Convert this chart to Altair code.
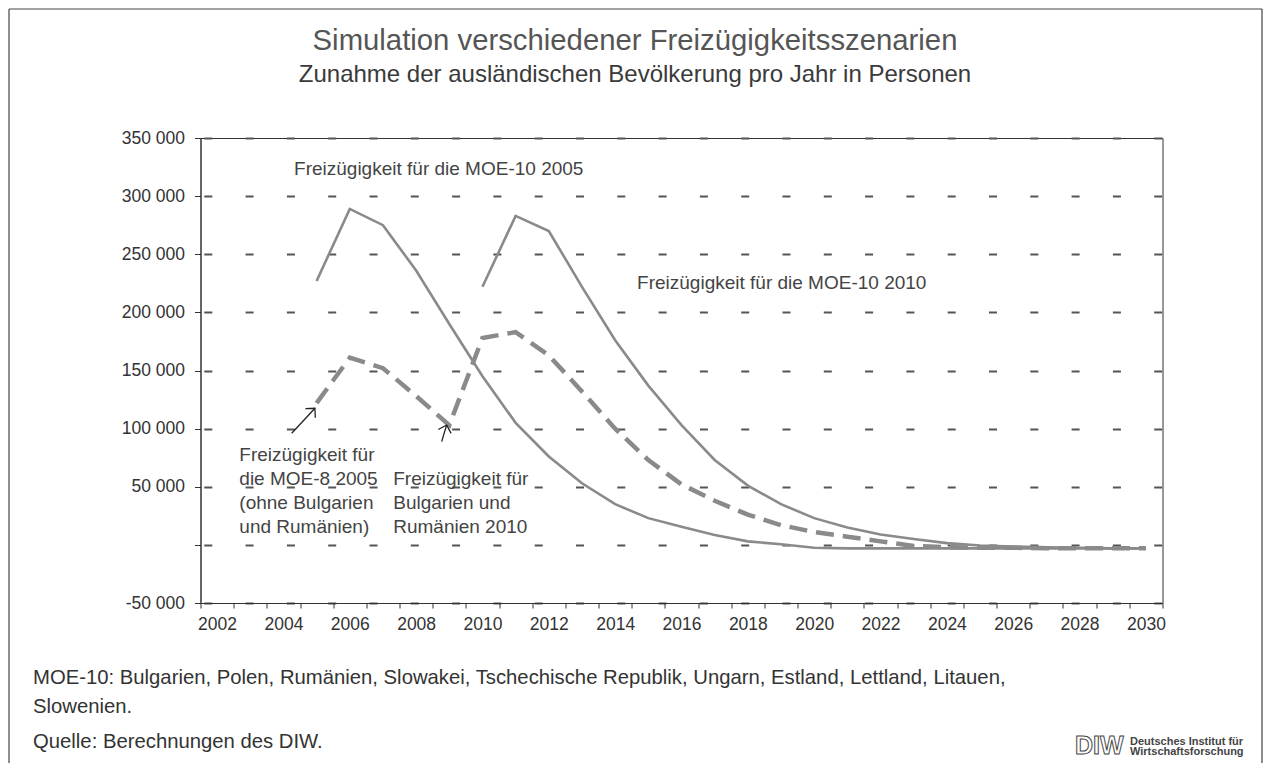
import altair as alt
import pandas as pd

# ---------------- data ----------------
years_moe10_2005 = list(range(2005, 2031))
moe10_2005 = [227000, 289000, 275000, 236000, 190000, 145000, 105000, 76000, 53000,
              35000, 23000, 15500, 8500, 3000, 500, -2500, -3000, -3000, -3000, -3000,
              -3000, -3000, -3000, -3000, -3000, -3000]

years_moe10_2010 = list(range(2010, 2031))
moe10_2010 = [222000, 283000, 270000, 222000, 176000, 137000, 103000, 73000, 51000,
              35000, 23000, 15000, 9000, 5000, 1500, -500, -1500, -2000, -2500, -3000, -3000]

years_moe8 = list(range(2005, 2031))
moe8_bgro = [122000, 161000, 152000, 128000, 103000, 178000, 183000, 163000, 132000,
             100000, 73000, 52000, 38000, 26000, 17000, 11000, 7000, 3000, -1000, -2000,
             -2500, -2500, -3000, -3000, -3000, -3000]

y_ticks = [-50000, 0, 50000, 100000, 150000, 200000, 250000, 300000, 350000]
x_tick_bounds = [2001.5 + i for i in range(30)]

label_text = [
    "Freizügigkeit für die MOE-10 2005",
    "Freizügigkeit für die MOE-10 2010",
    "Freizügigkeit  für\ndie MOE-8 2005\n(ohne Bulgarien\nund Rumänien)",
    "Freizügigkeit für\nBulgarien und\nRumänien  2010",
]
label_year = [2004.32, 2014.66, 2002.67, 2007.31]
label_value = [318000, 220000, 72000, 51500]

arrow_id = ["a", "a", "b", "b"]
arrow_year = [2004.25, 2004.95, 2008.77, 2008.92]
arrow_value = [96000, 117500, 88800, 103100]
head_year = [2004.95, 2008.92]
head_value = [117500, 103100]
head_angle = [43, 17]

title_text = "Simulation verschiedener Freizügigkeitsszenarien"
subtitle_text = "Zunahme der ausländischen Bevölkerung pro Jahr in Personen"
footer_lines = [
    "MOE-10: Bulgarien, Polen, Rumänien, Slowakei, Tschechische Republik, Ungarn, Estland, Lettland, Litauen,",
    "Slowenien.",
    "Quelle: Berechnungen des DIW.",
]

# ---------------- layout / style ----------------
W, H = 962, 465
PL, PT = 192.5, 130
PR = 1255 - PL - W
PB = 755 - PT - H
FONT = "Liberation Sans"
GRAY = "#8a8a8a"
INK = "#333333"

solid_df = pd.concat([
    pd.DataFrame({"series": "MOE-10 2005", "year": years_moe10_2005, "value": moe10_2005}),
    pd.DataFrame({"series": "MOE-10 2010", "year": years_moe10_2010, "value": moe10_2010}),
])
dash_df = pd.DataFrame({"series": "MOE-8 2005 / BG+RO 2010", "year": years_moe8, "value": moe8_bgro})
label_df = pd.DataFrame({"year": label_year, "value": label_value, "label": label_text})
arrow_df = pd.DataFrame({"id": arrow_id, "year": arrow_year, "value": arrow_value})
head_df = pd.DataFrame({"year": head_year, "value": head_value, "ang": head_angle})

x_scale = alt.Scale(domain=[2001.5, 2030.5], nice=False, zero=False)
y_scale = alt.Scale(domain=[-50000, 350000], nice=False, zero=False)

x_axis = alt.Axis(
    values=x_tick_bounds,
    labelExpr="(datum.value + 0.5) % 2 == 0 ? format(datum.value + 0.5, 'd') : ''",
    labelOffset=W / 29 / 2, labelOverlap=False, labelFlush=False,
    tickSize=5, labelPadding=7, grid=False, title=None,
    domainColor=INK, tickColor=INK, labelColor=INK,
    labelFont=FONT, labelFontSize=17.5,
)
y_axis = alt.Axis(
    values=y_ticks,
    labelExpr="datum.value == 0 ? '' : (datum.value < 0 ? '-' : '') + replace(format(abs(datum.value), ','), ',', ' ')",
    grid=True, gridDash=[8, 33.3], gridDashOffset=38, gridColor="#555", gridWidth=1.8,
    tickSize=6, labelPadding=10, title=None,
    domainColor=INK, tickColor=INK, labelColor=INK,
    labelFont=FONT, labelFontSize=17.5,
)

X = alt.X("year:Q", scale=x_scale, axis=x_axis)
Y = alt.Y("value:Q", scale=y_scale, axis=y_axis)

solid = alt.Chart(solid_df).mark_line(color=GRAY, strokeWidth=2.6).encode(x=X, y=Y, detail="series:N")
dashed = alt.Chart(dash_df).mark_line(color=GRAY, strokeWidth=4.5, strokeDash=[18, 9]).encode(x=X, y=Y)

labels = alt.Chart(label_df).mark_text(
    align="left", baseline="alphabetic", font=FONT, fontSize=19, color="#444",
    lineBreak="\n", lineHeight=24,
).encode(x=X, y=Y, text="label:N")

arrows = alt.Chart(arrow_df).mark_line(color="#222", strokeWidth=1.3).encode(x=X, y=Y, detail="id:N")
heads = alt.Chart(head_df).mark_point(
    shape="M-1,1L0,0L1,1", filled=False, size=180, strokeWidth=1.3, color="#222", opacity=1
).encode(x=X, y=Y, angle=alt.Angle("ang:Q", scale=None))

one = pd.DataFrame({"k": [0]})
title = alt.Chart(one).mark_text(font=FONT, fontSize=29.3, color="#555", align="center",
                                 baseline="alphabetic", text=title_text).encode(
    x=alt.value(434.5), y=alt.value(-88))
subtitle = alt.Chart(one).mark_text(font=FONT, fontSize=24, color="#3a3a3a", align="center",
                                    baseline="alphabetic", text=subtitle_text).encode(
    x=alt.value(434.5), y=alt.value(-56))

footer_df = pd.DataFrame({"t": footer_lines, "py": [546, 575, 610]})
footer = alt.Chart(footer_df).mark_text(font=FONT, fontSize=20.3, color=INK, align="left",
                                        baseline="alphabetic").encode(
    x=alt.value(-167.5), y=alt.Y("py:Q", scale=None), text="t:N")

logo = alt.Chart(one).mark_text(font=FONT, fontSize=25, fontWeight="bold", fill="white",
                                stroke="#444", strokeWidth=1, align="left",
                                baseline="alphabetic", text="DIW").encode(
    x=alt.value(874.5), y=alt.value(616))
logo_txt = alt.Chart(pd.DataFrame({"t": ["Deutsches Institut für", "Wirtschaftsforschung"],
                                   "py": [607, 617]})).mark_text(
    font=FONT, fontSize=11, fontWeight="bold", color="#444", align="left",
    baseline="alphabetic").encode(x=alt.value(929.5), y=alt.Y("py:Q", scale=None), text="t:N")

frame_top = alt.Chart(one).mark_rule(color="#444", strokeWidth=1.2).encode(
    x=alt.value(-191.5), x2=alt.value(1061.5), y=alt.value(-129))
frame_left = alt.Chart(one).mark_rule(color="#444", strokeWidth=1.2).encode(
    x=alt.value(-191.5), y=alt.value(-129), y2=alt.value(625))
frame_right = alt.Chart(one).mark_rule(color="#444", strokeWidth=1.2).encode(
    x=alt.value(1061.5), y=alt.value(-129), y2=alt.value(625))

chart = alt.layer(
    solid, dashed, labels, arrows, heads,
    title, subtitle, footer, logo, logo_txt, frame_top, frame_left, frame_right,
).properties(
    width=W, height=H,
    autosize=alt.AutoSizeParams(type="none"),
    padding={"left": PL, "top": PT, "right": PR, "bottom": PB},
    background="white",
).configure_view(stroke=INK, strokeWidth=1)

chart.save("out.html", embed_options={"renderer": "svg", "actions": False})
